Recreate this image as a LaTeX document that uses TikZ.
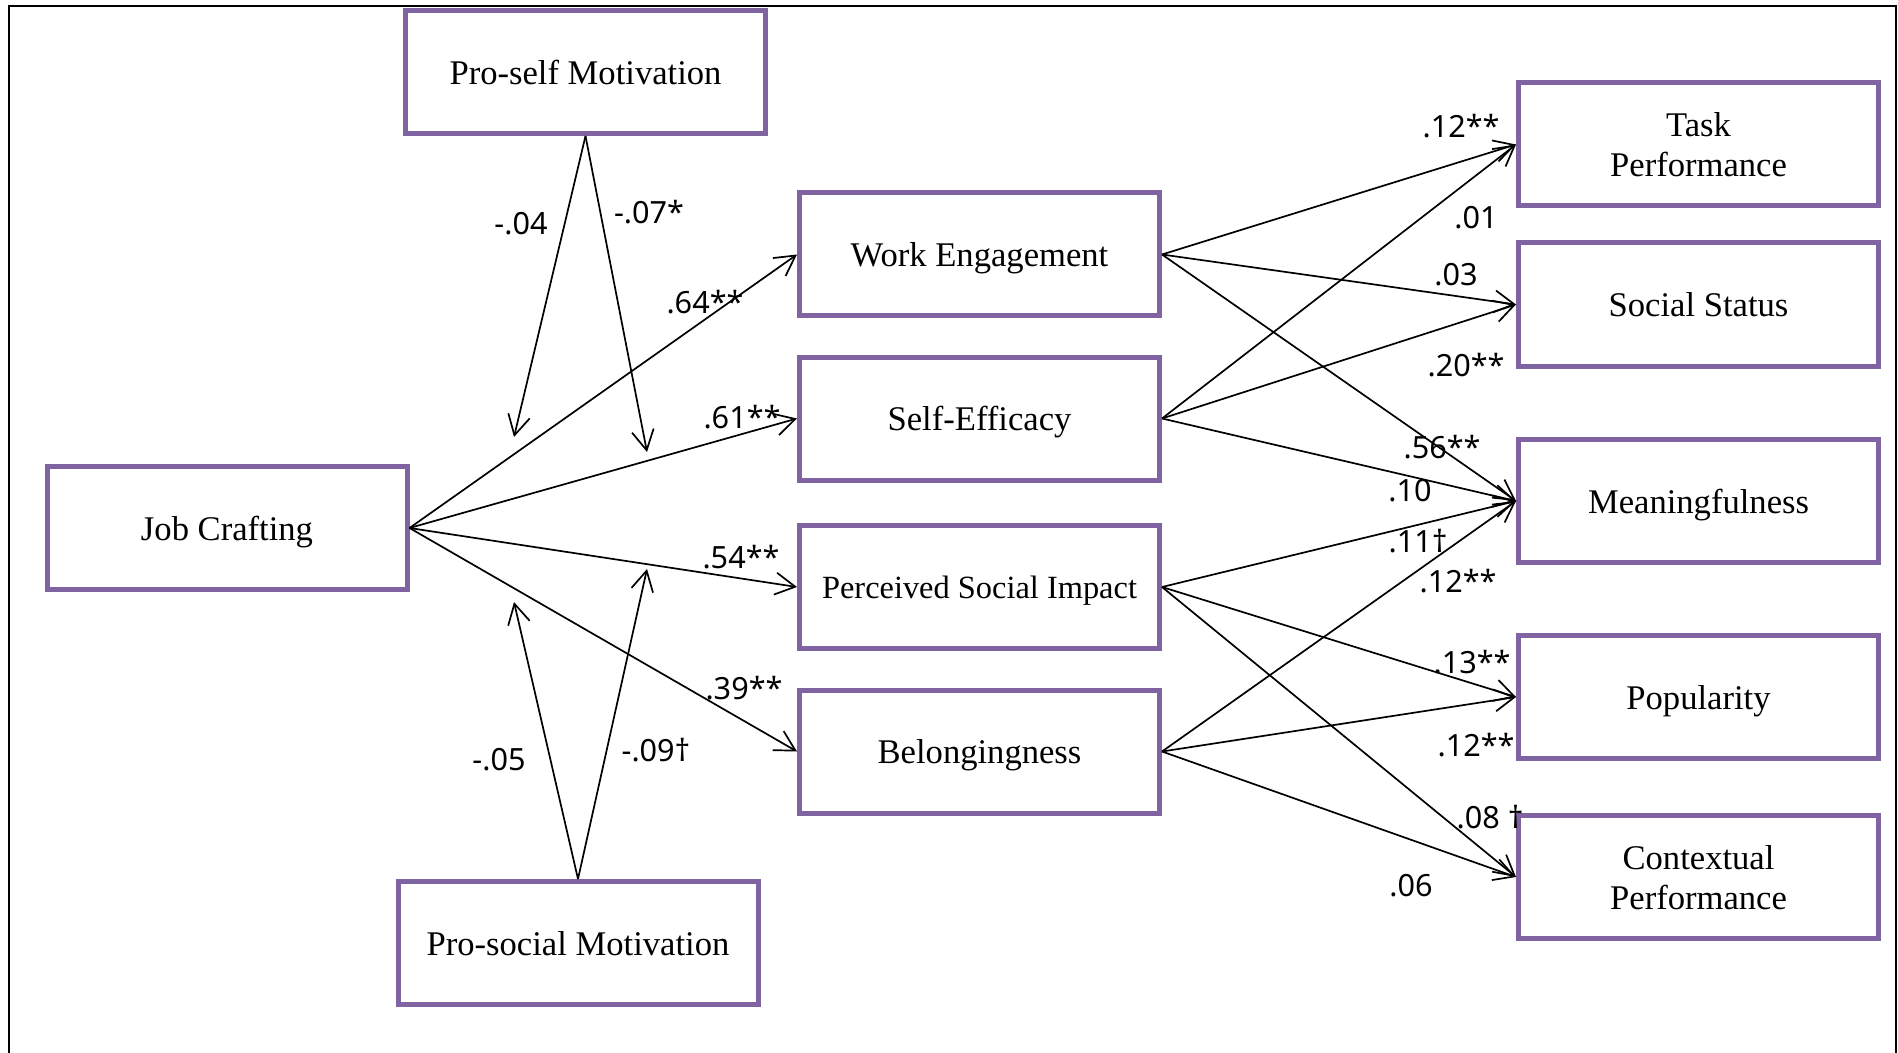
\documentclass[tikz,border=0pt]{standalone}
\usepackage{fontspec}
\setmainfont{Liberation Serif}
\newfontfamily\lblfont{Noto Sans}
\usetikzlibrary{arrows.meta}
\definecolor{boxpurple}{RGB}{128,100,162}
\begin{document}
\begin{tikzpicture}[x=0.5pt,y=-0.5pt,
  vbox/.style={draw=boxpurple, line width=2.5pt, minimum width=180pt, minimum height=61.5pt,
    align=center, inner sep=0pt, text depth=0pt, font=\fontsize{17.3}{20}\selectfont},
  conn/.style={line width=0.85pt, -{Straight Barb[length=10pt,width=11pt,line width=0.85pt]}},
  lbl/.style={font=\lblfont\fontsize{15.3}{18}\selectfont, inner sep=0pt}
]
\useasboundingbox (0,0) rectangle (1898,1053);
% frame
\draw[line width=1pt] (9,1053) -- (9,6) -- (1896,6) -- (1896,1053);

% boxes
\node[vbox] (proself) at (585.5,72) {Pro-self Motivation};
\node[vbox] (jc) at (227,528) {Job Crafting};
\node[vbox] (prosocial) at (578,943) {Pro-social Motivation};
\node[vbox] (we) at (979.5,254.5) {Work Engagement};
\node[vbox] (se) at (979.5,418.5) {Self-Efficacy};
\node[vbox, font=\fontsize{16.2}{20}\selectfont] (psi) at (979.5,587) {Perceived Social Impact};
\node[vbox] (bel) at (979.5,751.5) {Belongingness};
\node[vbox] (task) at (1698.5,144.5) {Task\\Performance};
\node[vbox] (ss) at (1698.5,304.5) {Social Status};
\node[vbox] (mean) at (1698.5,501) {Meaningfulness};
\node[vbox] (pop) at (1698.5,697) {Popularity};
\node[vbox] (ctx) at (1698.5,877) {Contextual\\Performance};

% free ends of moderator arrows
\coordinate (a1) at (514,437);
\coordinate (a2) at (647,452);
\coordinate (b1) at (514,602);
\coordinate (b2) at (647,569);

% moderator arrows
\draw[conn] (proself.south) -- (a1);
\draw[conn] (proself.south) -- (a2);
\draw[conn] (prosocial.north) -- (b1);
\draw[conn] (prosocial.north) -- (b2);

% job crafting to mediators
\draw[conn] (jc.east) -- (we.west);
\draw[conn] (jc.east) -- (se.west);
\draw[conn] (jc.east) -- (psi.west);
\draw[conn] (jc.east) -- (bel.west);

% mediators to outcomes
\draw[conn] (we.east) -- (task.west);
\draw[conn] (we.east) -- (ss.west);
\draw[conn] (we.east) -- (mean.west);
\draw[conn] (se.east) -- (task.west);
\draw[conn] (se.east) -- (ss.west);
\draw[conn] (se.east) -- (mean.west);
\draw[conn] (psi.east) -- (mean.west);
\draw[conn] (psi.east) -- (pop.west);
\draw[conn] (psi.east) -- (ctx.west);
\draw[conn] (bel.east) -- (mean.west);
\draw[conn] (bel.east) -- (pop.west);
\draw[conn] (bel.east) -- (ctx.west);

% labels
\node[lbl] (l1) at (521,224) {-.04};
\node[lbl] (l2) at (649,212) {-.07*};
\node[lbl] (l3) at (705,302) {.64**};
\node[lbl] (l4) at (742,417) {.61**};
\node[lbl] (l5) at (741,557) {.54**};
\node[lbl] (l6) at (744,688) {.39**};
\node[lbl] (l7) at (499,760) {-.05};
\node[lbl] (l8) at (656,750) {-.09†};

\node[lbl] (r1) at (1461,126) {.12**};
\node[lbl] (r2) at (1476,218) {.01};
\node[lbl] (r3) at (1456,275) {.03};
\node[lbl] (r4) at (1466,365) {.20**};
\node[lbl] (r5) at (1442,447) {.56**};
\node[lbl] (r6) at (1410,491) {.10};
\node[lbl] (r7) at (1418,541) {.11†};
\node[lbl] (r8) at (1458,581) {.12**};
\node[lbl] (r9) at (1472,662) {.13**};
\node[lbl] (r10) at (1476,745) {.12**};
\node[lbl] (r11) at (1490,817) {.08 †};
\node[lbl] (r12) at (1411,886) {.06};
\end{tikzpicture}
\end{document}
